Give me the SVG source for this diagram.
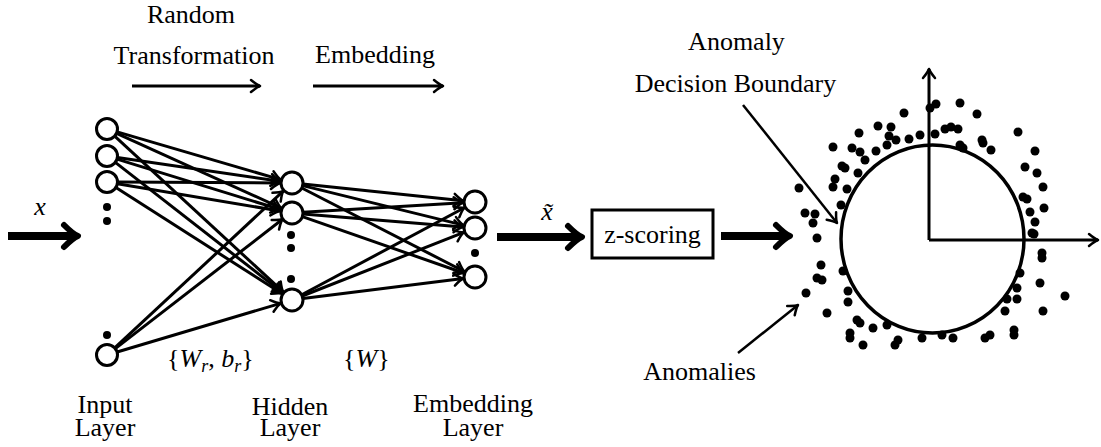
<svg xmlns="http://www.w3.org/2000/svg" width="1101" height="447" viewBox="0 0 1101 447" font-family="Liberation Serif, Times New Roman, serif">
<style>
text{font-size:26px;fill:#000}
.m{font-style:italic}
.node{fill:#fff;stroke:#000;stroke-width:3}
.dot{fill:#000}
.edge{stroke:#000;stroke-width:3;fill:none;marker-end:url(#ah)}
.big{stroke:#000;stroke-width:8;fill:none;marker-end:url(#bh)}
.thin{stroke:#000;stroke-width:2.5;fill:none;marker-end:url(#ah)}
</style>
<defs>
<marker id="ah" markerUnits="userSpaceOnUse" viewBox="-12 -8 14 16" refX="0" refY="0" markerWidth="14" markerHeight="16" orient="auto" overflow="visible">
<path d="M-9,-6 Q-3,-1 0,0 Q-3,1 -9,6" fill="none" stroke="#000" stroke-width="2.5" stroke-linecap="round" stroke-linejoin="round"/>
</marker>
<marker id="bh" markerUnits="userSpaceOnUse" viewBox="-20 -16 24 32" refX="-5" refY="0" markerWidth="24" markerHeight="32" orient="auto" overflow="visible">
<path d="M-14,-11 Q-5,-2 0,0 Q-5,2 -14,11" fill="none" stroke="#000" stroke-width="6" stroke-linecap="round" stroke-linejoin="round"/>
</marker>
</defs>
<rect width="1101" height="447" fill="#fff"/>

<g id="connectors">
<line class="edge" x1="117.1" y1="131.9" x2="280.5" y2="179.6"/>
<line class="edge" x1="116.6" y1="133.3" x2="281.1" y2="208.0"/>
<line class="edge" x1="114.7" y1="136.1" x2="283.2" y2="291.9"/>
<line class="edge" x1="117.4" y1="157.5" x2="280.1" y2="181.3"/>
<line class="edge" x1="117.0" y1="159.1" x2="280.5" y2="209.5"/>
<line class="edge" x1="115.3" y1="162.4" x2="282.5" y2="292.6"/>
<line class="edge" x1="117.5" y1="182.1" x2="280.0" y2="183.0"/>
<line class="edge" x1="117.4" y1="183.7" x2="280.2" y2="211.0"/>
<line class="edge" x1="115.9" y1="187.6" x2="281.9" y2="293.5"/>
<line class="edge" x1="114.7" y1="347.9" x2="283.2" y2="191.1"/>
<line class="edge" x1="115.3" y1="348.6" x2="282.5" y2="219.3"/>
<line class="edge" x1="117.1" y1="352.0" x2="280.5" y2="303.4"/>
<line class="edge" x1="302.9" y1="184.1" x2="463.1" y2="200.8"/>
<line class="edge" x1="302.7" y1="185.6" x2="463.3" y2="225.1"/>
<line class="edge" x1="301.8" y1="188.0" x2="464.3" y2="271.5"/>
<line class="edge" x1="303.0" y1="212.3" x2="463.0" y2="202.7"/>
<line class="edge" x1="303.0" y1="213.9" x2="463.0" y2="227.0"/>
<line class="edge" x1="302.4" y1="216.6" x2="463.7" y2="273.0"/>
<line class="edge" x1="301.7" y1="294.8" x2="464.4" y2="207.7"/>
<line class="edge" x1="302.2" y1="296.0" x2="463.8" y2="232.4"/>
<line class="edge" x1="302.9" y1="298.6" x2="463.1" y2="278.5"/>
<line class="big" x1="8" y1="236" x2="73" y2="236"/>
<line class="big" x1="497" y1="237" x2="577" y2="237"/>
<line class="big" x1="721" y1="236" x2="785" y2="236"/>
<line class="edge" x1="132" y1="86" x2="260" y2="86"/>
<line class="edge" x1="313" y1="86" x2="443" y2="86"/>
<line class="thin" x1="743" y1="105" x2="837" y2="223"/>
<line class="thin" x1="738" y1="353" x2="798" y2="305"/>
</g>

<g id="input-layer">
<circle class="node" cx="107" cy="129" r="10.5"/>
<circle class="node" cx="107" cy="156" r="10.5"/>
<circle class="node" cx="107" cy="182" r="10.5"/>
<circle class="dot" cx="107" cy="207" r="4"/>
<circle class="dot" cx="107" cy="221" r="4"/>
<circle class="dot" cx="107" cy="335" r="4"/>
<circle class="node" cx="107" cy="355" r="10.5"/>
</g>
<g id="hidden-layer">
<circle class="node" cx="292" cy="183" r="11"/>
<circle class="node" cx="292" cy="213" r="11"/>
<circle class="dot" cx="291" cy="235" r="4"/>
<circle class="dot" cx="291" cy="248" r="4"/>
<circle class="dot" cx="291" cy="279" r="4"/>
<circle class="node" cx="292" cy="300" r="11"/>
</g>
<g id="embedding-layer">
<circle class="node" cx="475" cy="202" r="11"/>
<circle class="node" cx="475" cy="228" r="11"/>
<circle class="dot" cx="475" cy="253" r="4"/>
<circle class="node" cx="475" cy="277" r="11"/>
</g>

<g id="z-scoring">
<rect x="592" y="210" width="121" height="48" fill="#fff" stroke="#000" stroke-width="3"/>
<text x="652.5" y="243" text-anchor="middle">z-scoring</text>
</g>

<g id="scatter">
<line x1="929" y1="240" x2="929" y2="69" stroke="#000" stroke-width="3" marker-end="url(#ah)"/>
<line x1="929" y1="240" x2="1098" y2="240" stroke="#000" stroke-width="3" marker-end="url(#ah)"/>
<ellipse cx="932.5" cy="239" rx="91.5" ry="94" fill="none" stroke="#000" stroke-width="3.5"/>
<g class="dot">
<circle cx="930" cy="108" r="4.5"/><circle cx="936" cy="104" r="4.5"/><circle cx="904" cy="113" r="4.5"/><circle cx="878" cy="126" r="4.5"/><circle cx="891" cy="127" r="4.5"/><circle cx="859" cy="133" r="4.5"/><circle cx="889" cy="136" r="4.5"/><circle cx="896" cy="140" r="4.5"/><circle cx="909" cy="139" r="4.5"/><circle cx="920" cy="135" r="4.5"/><circle cx="935" cy="134" r="4.5"/><circle cx="833" cy="147" r="4.5"/><circle cx="852" cy="148" r="4.5"/><circle cx="860" cy="152" r="4.5"/><circle cx="876" cy="151" r="4.5"/><circle cx="887" cy="145" r="4.5"/><circle cx="865" cy="160" r="4.5"/><circle cx="842" cy="166" r="4.5"/><circle cx="845" cy="168" r="4.5"/><circle cx="858" cy="173" r="4.5"/><circle cx="835" cy="179" r="4.5"/><circle cx="833" cy="187" r="4.5"/><circle cx="799" cy="188" r="4.5"/><circle cx="847" cy="189" r="4.5"/><circle cx="841" cy="205" r="4.5"/><circle cx="805" cy="213" r="4.5"/><circle cx="815" cy="214" r="4.5"/><circle cx="813" cy="223" r="4.5"/>
<circle cx="960" cy="103" r="4.5"/><circle cx="977" cy="114" r="4.5"/><circle cx="945" cy="129" r="4.5"/><circle cx="951" cy="127" r="4.5"/><circle cx="958" cy="129" r="4.5"/><circle cx="1018" cy="132" r="4.5"/><circle cx="982" cy="140" r="4.5"/><circle cx="983" cy="143" r="4.5"/><circle cx="991" cy="150" r="4.5"/><circle cx="960" cy="145" r="4.5"/><circle cx="963" cy="148" r="4.5"/><circle cx="1035" cy="151" r="4.5"/><circle cx="1025" cy="167" r="4.5"/><circle cx="1037" cy="173" r="4.5"/><circle cx="1043" cy="187" r="4.5"/><circle cx="1023" cy="197" r="4.5"/><circle cx="1027" cy="199" r="4.5"/><circle cx="1030" cy="212" r="4.5"/><circle cx="1044" cy="208" r="4.5"/><circle cx="1035" cy="222" r="4.5"/>
<circle cx="817" cy="238" r="4.5"/><circle cx="821" cy="265" r="4.5"/><circle cx="817" cy="278" r="4.5"/><circle cx="822" cy="280" r="4.5"/><circle cx="843" cy="271" r="4.5"/><circle cx="806" cy="293" r="4.5"/><circle cx="848" cy="291" r="4.5"/><circle cx="848" cy="302" r="4.5"/><circle cx="827" cy="313" r="4.5"/><circle cx="857" cy="320" r="4.5"/><circle cx="860" cy="323" r="4.5"/><circle cx="873" cy="328" r="4.5"/><circle cx="887" cy="325" r="4.5"/><circle cx="850" cy="333" r="4.5"/><circle cx="850" cy="338" r="4.5"/><circle cx="863" cy="345" r="4.5"/><circle cx="898" cy="340" r="4.5"/><circle cx="895" cy="345" r="4.5"/><circle cx="922" cy="338" r="4.5"/>
<circle cx="1032" cy="233" r="4.5"/><circle cx="1034" cy="234" r="4.5"/><circle cx="1042" cy="253" r="4.5"/><circle cx="1042" cy="258" r="4.5"/><circle cx="1020" cy="273" r="4.5"/><circle cx="1040" cy="283" r="4.5"/><circle cx="1065" cy="296" r="4.5"/><circle cx="1017" cy="288" r="4.5"/><circle cx="1007" cy="299" r="4.5"/><circle cx="1017" cy="299" r="4.5"/><circle cx="1005" cy="311" r="4.5"/><circle cx="1043" cy="311" r="4.5"/><circle cx="1014" cy="330" r="4.5"/><circle cx="1014" cy="335" r="4.5"/><circle cx="990" cy="335" r="4.5"/><circle cx="985" cy="338" r="4.5"/><circle cx="953" cy="338" r="4.5"/><circle cx="942" cy="335" r="4.5"/>
</g>
</g>

<g id="labels">
<text x="191" y="23" text-anchor="middle">Random</text>
<text x="194" y="64" text-anchor="middle">Transformation</text>
<text x="375" y="63" text-anchor="middle">Embedding</text>
<text x="736.5" y="50" text-anchor="middle">Anomaly</text>
<text x="735.5" y="92" text-anchor="middle">Decision Boundary</text>
<text x="699.5" y="380" text-anchor="middle">Anomalies</text>
<text class="m" x="40" y="215" text-anchor="middle" font-size="24">x</text>
<text class="m" x="547" y="220" text-anchor="middle" font-size="24">x̃</text>
<text x="167" y="367">{<tspan class="m">W</tspan><tspan class="m" font-size="18" dy="5">r</tspan><tspan dy="-5">, </tspan><tspan class="m">b</tspan><tspan class="m" font-size="18" dy="5">r</tspan><tspan dy="-5">}</tspan></text>
<text x="343" y="367">{<tspan class="m">W</tspan>}</text>
<text x="105" y="413" text-anchor="middle">Input</text>
<text x="105" y="436" text-anchor="middle">Layer</text>
<text x="290" y="415" text-anchor="middle">Hidden</text>
<text x="290" y="436" text-anchor="middle">Layer</text>
<text x="473" y="412" text-anchor="middle">Embedding</text>
<text x="473" y="436" text-anchor="middle">Layer</text>
</g>
</svg>
